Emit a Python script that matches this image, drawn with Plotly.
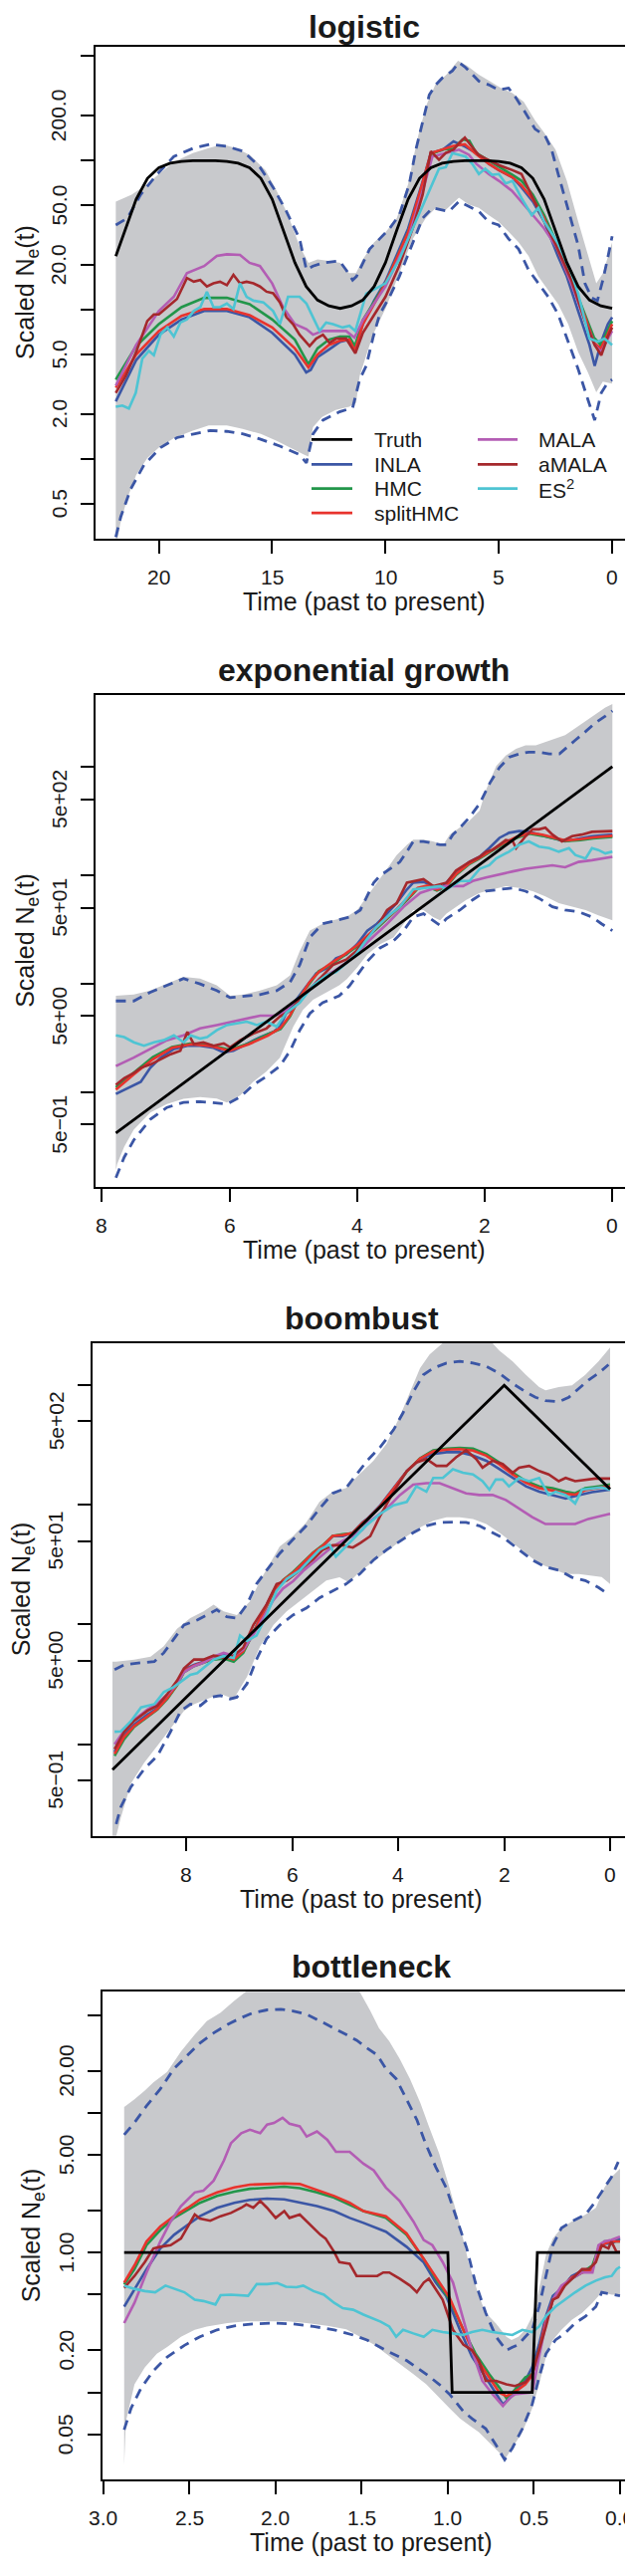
import math
import plotly.graph_objects as go

W, H = 636, 2587
FONT = "Liberation Sans, Arial, Helvetica, sans-serif"

GRAY = "#C8C9CC"
BLUE = "#3B56A5"
GREEN = "#22964A"
RED = "#E8332D"
MAGENTA = "#B35DB4"
DARKRED = "#A5282C"
CYAN = "#4EC4D3"
BLACK = "#000000"

# ---------------- Panel 1: logistic ----------------
p1_truth = [[21.9, 22.8], [21.5, 34.2], [21, 55], [20.5, 75.8], [20, 89.3], [19.5, 95.7], [19, 98.4], [18.5, 99.4],
            [18, 99.8], [17.5, 99.4], [17, 98.4], [16.5, 95.7], [16, 89.3], [15.5, 75.8], [15, 55], [14.5, 34.2],
            [14, 20.7], [13.5, 14.3], [13, 11.6], [12.5, 10.6], [12, 10.2], [11.5, 10.6], [11, 11.6], [10.5, 14.3],
            [10, 20.7], [9.5, 34.2], [9, 55], [8.5, 75.8], [8, 89.3], [7.5, 95.7], [7, 98.4], [6.5, 99.4], [6, 99.8],
            [5.5, 99.4], [5, 98.4], [4.5, 95.7], [4, 89.3], [3.5, 75.8], [3, 55], [2.5, 34.2], [2, 20.7], [1.5, 14.3],
            [1, 11.6], [0.5, 10.6], [0, 10.2]]
p1_band_up = [[21.9, 53], [21.2, 59], [20.5, 69.5], [20, 81], [19.3, 98], [18.5, 112], [17.8, 121], [17.2, 128],
              [16.6, 121], [16, 109], [15.3, 86], [14.8, 62.5], [14.3, 43], [13.8, 26.8], [13.4, 20.6], [13.0, 21.7],
              [12.5, 21.2], [12.0, 20.6], [11.6, 17.6], [11.3, 17.6], [11.0, 21.7], [10.5, 28.3], [10.0, 33],
              [9.5, 41], [9.0, 69.5], [8.6, 138], [8.2, 234], [7.8, 321], [7.3, 377], [6.8, 465], [6.4, 430],
              [5.9, 377], [5.4, 339], [4.9, 305], [4.4, 282], [3.9, 247], [3.4, 185], [3.0, 153], [2.5, 118],
              [2.0, 73], [1.5, 39], [1.0, 21.7], [0.7, 15], [0.4, 17.6], [0.0, 28.3]]
p1_band_lo = [[21.9, 0.25], [21.7, 0.37], [21.4, 0.54], [21.0, 0.78], [20.5, 1.02], [20.0, 1.19], [19.3, 1.39],
              [18.5, 1.55], [17.8, 1.68], [17.0, 1.68], [16.3, 1.59], [15.5, 1.47], [14.8, 1.32], [14.2, 1.19],
              [13.6, 1.07], [13.4, 1.04], [13.2, 1.63], [12.8, 1.91], [12.2, 2.13], [11.6, 2.24], [11.3, 2.37],
              [11.14, 3.6], [10.55, 6.8], [9.97, 10.4], [9.39, 17.6], [8.8, 29.8], [8.22, 41], [7.78, 48],
              [7.34, 46.7], [6.76, 56.2], [6.32, 50.6], [5.88, 48], [5.45, 43], [5.01, 38.8], [4.57, 33.2],
              [4.13, 28.3], [3.69, 22.9], [3.26, 16.7], [2.82, 13.5], [2.38, 10.9], [1.94, 8.0], [1.5, 5.2],
              [1.07, 3.8], [0.7, 2.8], [0.41, 3.3], [0.0, 3.2]]
p1_dash_up = [[21.9, 36.9], [21.39, 41], [20.8, 59], [20.07, 81], [19.34, 106], [18.46, 121], [17.73, 128],
              [17.0, 124], [16.27, 115], [15.54, 90], [14.96, 66], [14.37, 45.5], [13.79, 29.8], [13.49, 18.5],
              [13.2, 19.6], [12.76, 20.6], [12.03, 21.2], [11.74, 18.5], [11.45, 15.8], [11.28, 16.7],
              [10.99, 20.6], [10.7, 25.5], [10.26, 29.8], [9.82, 35], [9.39, 43], [8.95, 69.5], [8.66, 118],
              [8.36, 180], [8.07, 274], [7.78, 321], [7.49, 357], [7.05, 397], [6.76, 453], [6.47, 419],
              [6.18, 377], [5.88, 339], [5.45, 321], [5.01, 297], [4.57, 305], [4.28, 267], [3.84, 210],
              [3.4, 162], [2.96, 146], [2.67, 118], [2.38, 81], [2.09, 56], [1.8, 39], [1.5, 27], [1.2, 15],
              [0.9, 12], [0.65, 11.5], [0.4, 16], [0.2, 22], [0.0, 31]]
p1_dash_lo = [[21.9, 0.30], [21.68, 0.41], [21.24, 0.63], [20.66, 0.91], [19.93, 1.19], [19.2, 1.39], [18.46, 1.47],
              [17.73, 1.55], [17.0, 1.53], [16.27, 1.47], [15.54, 1.36], [14.66, 1.22], [13.79, 1.07], [13.49, 0.94],
              [13.2, 1.47], [12.76, 1.82], [12.03, 2.07], [11.45, 2.2], [11.14, 3.4], [10.85, 4.2], [10.55, 6.5],
              [10.26, 9.3], [9.82, 12.2], [9.39, 16.7], [9.09, 21.7], [8.8, 28.3], [8.36, 41], [7.93, 48],
              [7.49, 46.7], [7.2, 45.5], [6.76, 53], [6.32, 49.3], [5.88, 45.5], [5.45, 38.8], [5.01, 36.9],
              [4.57, 29.8], [4.13, 25.5], [3.69, 18.5], [3.26, 15.0], [2.82, 12.2], [2.38, 9.3], [1.94, 6.1],
              [1.5, 4.0], [1.07, 2.5], [0.77, 1.82], [0.48, 2.77], [0.19, 3.25], [0.0, 3.4]]
p1_inla = [[21.9, 2.43], [21.0, 4.6], [20.0, 6.8], [19.0, 8.6], [18.0, 9.8], [17.0, 9.8], [16.0, 8.9], [15.0, 7.0],
           [14.0, 5.0], [13.5, 3.8], [13.3, 3.95], [13.0, 4.8], [12.5, 5.4], [12.0, 6.1], [11.6, 6.3], [11.35, 5.6],
           [11.0, 8.0], [10.5, 11.5], [10.0, 15.5], [9.0, 35], [8.35, 73], [8.0, 112], [7.5, 117], [7.0, 134],
           [6.5, 124], [6.0, 112], [5.45, 95], [5.0, 86], [4.4, 77], [4.0, 66], [3.5, 53], [3.0, 39], [2.4, 23],
           [2.0, 16.7], [1.5, 9.8], [1.0, 5.8], [0.77, 4.2], [0.48, 6.1], [0.19, 8.0], [0.0, 8.9]]
p1_hmc = [[21.9, 3.4], [21.0, 5.7], [20.0, 8.0], [19.0, 10.4], [18.0, 12.0], [17.0, 12.0], [16.0, 10.9], [15.0, 8.6],
          [14.0, 6.3], [13.4, 4.3], [13.0, 5.5], [12.5, 6.3], [12.0, 6.6], [11.6, 6.6], [11.35, 5.7], [11.0, 8.5],
          [10.0, 15], [9.0, 33], [8.35, 70], [8.0, 110], [7.5, 118], [7.0, 120], [6.6, 138], [6.3, 135], [6.0, 112],
          [5.45, 100], [5.0, 90], [4.4, 80], [4.0, 73], [3.5, 59], [3.0, 43], [2.4, 27], [1.8, 15.8], [1.2, 9.3],
          [0.8, 6.5], [0.5, 5.8], [0.2, 7.2], [0.0, 8.4]]
p1_split = [[21.9, 3.0], [21.0, 5.0], [20.0, 7.2], [19.0, 9.1], [18.0, 10.1], [17.0, 10.1], [16.0, 9.2], [15.0, 7.6],
            [14.0, 5.5], [13.4, 4.1], [13.0, 5.0], [12.5, 5.8], [12.0, 6.2], [11.6, 6.3], [11.35, 5.3], [11.0, 8.0],
            [10.0, 15], [9.0, 33], [8.35, 72], [8.0, 112], [7.5, 118], [7.0, 125], [6.5, 128], [6.0, 110],
            [5.45, 95], [5.0, 86], [4.4, 77], [4.0, 68], [3.5, 55], [3.0, 41], [2.4, 25], [1.8, 15], [1.2, 9.0],
            [0.8, 6.0], [0.5, 5.5], [0.2, 6.8], [0.0, 8.0]]
p1_mala = [[21.9, 3.1], [21.0, 5.8], [20.0, 9.8], [19.34, 12.2], [18.76, 17.6], [18.0, 19.6], [17.44, 22.9],
           [17.0, 23.5], [16.42, 23.3], [16.0, 20.6], [15.54, 19.6], [15.0, 15.0], [14.52, 10.4], [14.0, 8.0],
           [13.49, 7.4], [13.2, 6.8], [12.76, 7.2], [12.32, 7.2], [11.74, 7.2], [11.37, 6.5], [11.0, 8.5],
           [10.0, 14.3], [9.0, 30], [8.36, 62.5], [7.93, 106], [7.34, 112], [6.76, 118], [6.32, 109], [6.0, 95],
           [5.45, 81], [5.0, 73], [4.42, 62.5], [4.0, 53], [3.5, 43], [3.0, 35], [2.4, 25.5], [1.8, 15], [1.2, 8.4],
           [0.77, 5.8], [0.48, 5.2], [0.19, 6.4], [0.0, 7.2]]
p1_amala = [[21.9, 2.77], [21.46, 3.6], [21.0, 5.2], [20.51, 8.4], [20.22, 9.3], [20.0, 9.3], [19.63, 10.4],
            [19.2, 11.8], [18.76, 16.3], [18.46, 15.4], [18.17, 15.8], [17.88, 14.3], [17.59, 15.0], [17.3, 15.4],
            [17.0, 14.6], [16.71, 17.1], [16.42, 15.0], [16.13, 15.4], [15.83, 15.0], [15.54, 14.3], [15.25, 13.2],
            [14.96, 12.9], [14.66, 11.2], [14.37, 8.9], [14.08, 8.0], [13.79, 6.8], [13.35, 5.7], [13.06, 6.4],
            [12.76, 6.8], [12.47, 6.0], [12.18, 6.4], [11.74, 6.4], [11.33, 5.1], [11.0, 7.0], [10.0, 12.2],
            [9.4, 19.6], [8.8, 35], [8.36, 59], [8.0, 115], [7.64, 101], [7.34, 112], [7.0, 118], [6.76, 130],
            [6.5, 142], [6.2, 124], [5.9, 109], [5.6, 103], [5.0, 93], [4.4, 86], [4.0, 81], [3.5, 56], [3.0, 39],
            [2.4, 25.5], [1.8, 15.8], [1.2, 8.4], [0.77, 5.8], [0.48, 4.95], [0.19, 6.6], [0.0, 7.6]]
p1_es2 = [[21.9, 2.24], [21.61, 2.28], [21.32, 2.18], [21.02, 2.77], [20.73, 4.7], [20.44, 5.3], [20.22, 4.95],
          [19.93, 6.8], [19.63, 7.6], [19.34, 6.6], [19.05, 8.2], [18.76, 8.6], [18.46, 9.8], [18.17, 10.4],
          [17.88, 13.2], [17.59, 10.4], [17.3, 10.4], [17.0, 11.0], [16.71, 10.1], [16.42, 15.0], [16.13, 12.2],
          [15.83, 11.5], [15.39, 11.2], [14.96, 9.8], [14.66, 8.0], [14.3, 12.2], [13.79, 12.2], [13.49, 11.0],
          [13.2, 8.9], [12.91, 7.2], [12.62, 8.2], [12.32, 8.0], [11.89, 7.6], [11.59, 7.8], [11.33, 7.2],
          [10.85, 12.8], [10.0, 15.0], [9.39, 21.7], [8.8, 35], [8.22, 56], [7.64, 88], [7.34, 90], [7.05, 112],
          [6.76, 109], [6.47, 106], [6.18, 95], [5.88, 81], [5.6, 88], [5.3, 80], [5.0, 81], [4.7, 70], [4.4, 73],
          [4.0, 56], [3.55, 43], [3.26, 48], [3.0, 39], [2.4, 28], [1.8, 17.6], [1.5, 12.8], [1.0, 6.4],
          [0.63, 6.1], [0.34, 6.4], [0.0, 5.8]]

# ---------------- Panel 2: exponential growth ----------------
p2_truth = [[0, 1000], [1, 368], [2, 135], [3, 49.8], [4, 18.3], [5, 6.74], [6, 2.48], [7, 0.912], [7.78, 0.418]]
p2_band_up = [[7.78, 7.7], [7.5, 7.9], [7.24, 8.6], [6.98, 9.9], [6.72, 11.5], [6.46, 11.1], [6.2, 9.6], [5.99, 7.7],
              [5.78, 7.9], [5.52, 8.6], [5.26, 9.6], [5.05, 11.9], [4.9, 19.8], [4.74, 30.7], [4.54, 35.5],
              [4.38, 38.2], [4.17, 41], [4.0, 47.5], [3.84, 63.6], [3.69, 85], [3.53, 114], [3.38, 153],
              [3.22, 190], [3.12, 212], [2.96, 212], [2.81, 204], [2.65, 190], [2.55, 236], [2.39, 273],
              [2.24, 316], [2.08, 394], [1.98, 609], [1.82, 1014], [1.67, 1262], [1.51, 1461], [1.36, 1572],
              [1.2, 1572], [1.05, 1690], [0.89, 1817], [0.74, 1953], [0.58, 2260], [0.42, 2616], [0.27, 3030],
              [0.11, 3500], [0.0, 3767]]
p2_band_lo = [[7.78, 0.19], [7.76, 0.216], [7.65, 0.312], [7.5, 0.449], [7.24, 0.646], [6.98, 0.775], [6.72, 0.865],
              [6.46, 0.897], [6.2, 0.87], [6.04, 0.80], [5.83, 0.93], [5.63, 1.24], [5.42, 1.55], [5.21, 2.07],
              [5.0, 4.0], [4.85, 5.7], [4.69, 7.1], [4.48, 8.3], [4.28, 9.6], [4.16, 11.0], [4.0, 14.0],
              [3.84, 18.5], [3.64, 23], [3.43, 26.6], [3.27, 35.5], [3.12, 47.5], [2.96, 47.5], [2.81, 41],
              [2.70, 38.2], [2.60, 44], [2.45, 51], [2.29, 59], [2.08, 68.5], [1.88, 73.6], [1.67, 79],
              [1.46, 76], [1.25, 71], [1.05, 63.6], [0.84, 55], [0.63, 51], [0.42, 47.5], [0.22, 42.6], [0.0, 38.2]]
p2_dash_up = [[7.78, 6.9], [7.5, 6.9], [7.24, 8.3], [6.98, 9.6], [6.72, 11.1], [6.46, 9.9], [6.2, 8.6], [5.99, 7.4],
              [5.78, 7.6], [5.52, 7.9], [5.26, 8.6], [5.05, 10.3], [4.9, 14.8], [4.74, 26.6], [4.54, 35.5],
              [4.33, 38.2], [4.12, 41], [3.95, 47.5], [3.84, 63.6], [3.74, 85], [3.64, 98.6], [3.48, 114],
              [3.33, 132], [3.22, 164], [3.12, 204], [2.96, 204], [2.81, 197], [2.70, 190], [2.60, 190],
              [2.50, 236], [2.39, 273], [2.24, 340], [2.08, 455], [1.92, 705], [1.77, 979], [1.62, 1217],
              [1.46, 1309], [1.31, 1358], [1.15, 1358], [0.99, 1309], [0.83, 1309], [0.74, 1461], [0.58, 1754],
              [0.42, 2104], [0.27, 2523], [0.11, 2918], [0.0, 3260]]
p2_dash_lo = [[7.78, 0.162], [7.65, 0.25], [7.5, 0.36], [7.24, 0.56], [6.98, 0.72], [6.72, 0.80], [6.46, 0.815],
              [6.25, 0.80], [6.04, 0.775], [5.83, 0.90], [5.63, 1.16], [5.42, 1.39], [5.21, 1.73], [5.05, 2.4],
              [4.9, 3.7], [4.74, 5.3], [4.54, 6.65], [4.28, 7.7], [4.12, 9.5], [4.0, 11.9], [3.84, 16],
              [3.64, 21.3], [3.43, 24.7], [3.27, 30.7], [3.12, 41], [2.96, 44], [2.81, 38.2], [2.70, 34.3],
              [2.60, 39.6], [2.39, 47.5], [2.19, 59], [1.98, 71], [1.77, 73.6], [1.56, 76], [1.36, 71], [1.15, 61],
              [0.94, 51], [0.74, 47.5], [0.53, 45.8], [0.32, 41], [0.17, 35.5], [0.0, 30.7]]
p2_inla = [[7.78, 0.96], [7.6, 1.08], [7.39, 1.24], [7.24, 1.67], [7.08, 2.07], [6.87, 2.49], [6.66, 2.67],
           [6.46, 2.67], [6.25, 2.55], [6.09, 2.31], [5.94, 2.4], [5.73, 2.77], [5.52, 3.2], [5.31, 3.58], [5.21, 4.0],
           [5.11, 5.35], [4.95, 7.1], [4.79, 9.6], [4.64, 12.4], [4.48, 13.8], [4.33, 17.1], [4.17, 18.5], [4.0, 23],
           [3.84, 30.7], [3.69, 35.5], [3.53, 44.2], [3.38, 55], [3.22, 73.6], [3.12, 85], [2.96, 86.5], [2.81, 79],
           [2.70, 73.6], [2.60, 85], [2.45, 106], [2.24, 132], [2.08, 147], [1.93, 177], [1.77, 220], [1.62, 245],
           [1.46, 254], [1.31, 250], [1.15, 236], [0.94, 220], [0.74, 204], [0.53, 216], [0.32, 228], [0.0, 236]]
p2_hmc = [[7.78, 1.1], [7.5, 1.5], [7.2, 2.1], [6.9, 2.6], [6.6, 2.8], [6.3, 2.7], [6.0, 2.45], [5.7, 2.8],
          [5.4, 3.4], [5.2, 3.8], [5.05, 5.0], [4.9, 7.5], [4.75, 10], [4.6, 13], [4.4, 15], [4.2, 18], [4.0, 22],
          [3.8, 28], [3.6, 36], [3.4, 46], [3.2, 60], [3.05, 75], [2.9, 78], [2.75, 72], [2.6, 78], [2.45, 100],
          [2.25, 125], [2.1, 140], [1.9, 165], [1.7, 195], [1.5, 220], [1.3, 240], [1.1, 230], [0.9, 215],
          [0.74, 205], [0.5, 210], [0.3, 218], [0.0, 225]]
p2_split = [[7.78, 1.05], [7.5, 1.45], [7.2, 2.0], [6.9, 2.55], [6.6, 2.75], [6.3, 2.65], [6.0, 2.4], [5.7, 2.75],
            [5.4, 3.3], [5.2, 3.9], [5.05, 5.1], [4.9, 7.4], [4.75, 10.2], [4.6, 12.8], [4.4, 15.5], [4.2, 18.5],
            [4.0, 22.5], [3.8, 29], [3.6, 37], [3.4, 47], [3.2, 62], [3.05, 76], [2.9, 80], [2.75, 73], [2.6, 80],
            [2.45, 102], [2.25, 127], [2.1, 142], [1.9, 168], [1.7, 198], [1.5, 225], [1.3, 245], [1.1, 235],
            [0.9, 218], [0.74, 208], [0.5, 214], [0.3, 222], [0.0, 230]]
p2_mala = [[7.78, 1.73], [7.5, 2.07], [7.24, 2.49], [6.98, 3.0], [6.72, 3.33], [6.46, 3.85], [6.2, 4.14], [5.94, 4.45],
           [5.68, 4.79], [5.52, 5.05], [5.31, 5.05], [5.16, 5.35], [5.0, 6.65], [4.79, 8.3], [4.59, 11.1],
           [4.38, 12.8], [4.17, 15.5], [3.96, 20], [3.84, 24], [3.53, 35.5], [3.27, 51], [3.01, 68.4], [2.81, 74.7],
           [2.60, 79], [2.34, 79], [2.19, 88], [1.98, 95], [1.77, 102], [1.56, 108], [1.36, 114], [1.15, 118],
           [0.94, 123], [0.74, 118], [0.53, 132], [0.32, 137], [0.0, 147]]
p2_amala = [[7.78, 1.16], [7.65, 1.34], [7.5, 1.49], [7.39, 1.67], [7.24, 1.79], [7.08, 2.0], [6.92, 2.23],
            [6.77, 2.4], [6.66, 3.58], [6.56, 2.77], [6.41, 2.87], [6.25, 2.67], [6.09, 2.8], [5.99, 2.58],
            [5.83, 3.0], [5.63, 3.45], [5.42, 3.85], [5.21, 4.96], [5.05, 5.6], [4.9, 7.1], [4.69, 9.6], [4.54, 11.9],
            [4.38, 14.8], [4.17, 16.6], [4.02, 19.8], [3.86, 25.6], [3.69, 33], [3.53, 47.5], [3.38, 55],
            [3.22, 85], [3.12, 87.5], [2.96, 91.6], [2.81, 79], [2.60, 85], [2.45, 110], [2.24, 132], [2.08, 147],
            [1.98, 164], [1.88, 170], [1.77, 190], [1.67, 210], [1.56, 204], [1.51, 177], [1.36, 228], [1.25, 264],
            [1.15, 264], [1.05, 273], [0.94, 236], [0.79, 204], [0.63, 228], [0.48, 236], [0.32, 250], [0.17, 250],
            [0.0, 254]]
p2_es2 = [[7.78, 3.33], [7.65, 3.2], [7.5, 2.87], [7.34, 2.67], [7.18, 2.87], [7.03, 3.0], [6.87, 3.33], [6.72, 2.87],
          [6.61, 3.33], [6.46, 3.1], [6.35, 3.2], [6.2, 3.7], [6.04, 4.14], [5.89, 4.3], [5.73, 4.45], [5.57, 4.14],
          [5.42, 4.45], [5.26, 4.0], [5.11, 5.35], [4.9, 6.65], [4.69, 9.6], [4.48, 11.9], [4.33, 12.8],
          [4.17, 15.4], [4.02, 18.5], [3.86, 25], [3.70, 33], [3.53, 41], [3.33, 51], [3.12, 73.6], [2.91, 76],
          [2.70, 79], [2.60, 73.6], [2.39, 88], [2.24, 88], [2.08, 114], [1.93, 123], [1.82, 142], [1.72, 153],
          [1.62, 164], [1.46, 190], [1.31, 204], [1.15, 183], [0.99, 177], [0.84, 164], [0.68, 177], [0.58, 153],
          [0.42, 142], [0.32, 177], [0.22, 170], [0.11, 158], [0.0, 164]]

# ---------------- Panel 3: boombust ----------------
p3_truth = [[0, 135.3], [1, 367.9], [2, 1000], [3, 367.9], [4, 135.3], [5, 49.8], [6, 18.3], [7, 6.74], [8, 2.48],
            [9, 0.912], [9.4, 0.611]]
p3_band_up = [[9.4, 4.9], [9.33, 4.9], [8.99, 5.1], [8.68, 5.4], [8.43, 6.6], [8.18, 9.2], [7.93, 11.3], [7.68, 12.9],
              [7.49, 14.7], [7.30, 12.9], [7.05, 12.0], [6.80, 15.7], [6.61, 23.3], [6.43, 32.4], [6.24, 45],
              [5.99, 54.8], [5.74, 71.4], [5.49, 106], [5.24, 129], [4.99, 138], [4.74, 180], [4.47, 234],
              [4.22, 326], [3.97, 552], [3.78, 877], [3.59, 1390], [3.41, 1810], [3.09, 2400], [2.28, 2400],
              [2.09, 1940], [1.84, 1585], [1.59, 1220], [1.34, 968], [1.22, 906], [0.97, 968], [0.72, 1000],
              [0.47, 1220], [0.22, 1585], [0.0, 2066]]
p3_band_lo = [[9.4, 0.15], [9.33, 0.17], [9.24, 0.245], [9.05, 0.47], [8.80, 0.70], [8.49, 1.05], [8.24, 1.46],
              [8.05, 1.90], [7.86, 2.16], [7.61, 2.39], [7.36, 2.64], [7.11, 2.39], [6.86, 3.66], [6.61, 6.6],
              [6.36, 9.9], [6.11, 12.9], [5.86, 15.7], [5.61, 19.1], [5.36, 23.3], [5.11, 24.8], [4.93, 22.5],
              [4.74, 27.4], [4.59, 30.3], [4.34, 36.9], [4.09, 45], [3.84, 54.8], [3.59, 64.7], [3.34, 73.8],
              [3.09, 78.9], [2.84, 78.9], [2.59, 76.4], [2.34, 69.2], [2.09, 58.6], [1.84, 48.1], [1.59, 39.4],
              [1.34, 32.4], [1.09, 29.3], [0.84, 26.5], [0.59, 26.5], [0.34, 25.7], [0.16, 25], [0.0, 21.8]]
p3_dash_up = [[9.36, 4.2], [9.18, 4.6], [8.86, 4.8], [8.61, 4.9], [8.43, 5.8], [8.24, 7.6], [8.05, 9.9], [7.80, 10.9],
              [7.61, 12.0], [7.43, 13.3], [7.24, 11.6], [7.05, 11.3], [6.86, 14.7], [6.68, 21.8], [6.49, 28.4],
              [6.24, 39.4], [5.99, 51.4], [5.74, 66.9], [5.49, 93], [5.24, 125], [4.99, 138], [4.74, 192],
              [4.59, 234], [4.34, 305], [4.09, 425], [3.91, 590], [3.72, 877], [3.53, 1220], [3.34, 1390],
              [3.09, 1535], [2.84, 1585], [2.59, 1535], [2.34, 1438], [2.09, 1259], [1.84, 1033], [1.59, 877],
              [1.41, 794], [1.22, 743], [0.97, 728], [0.78, 794], [0.59, 936], [0.41, 1104], [0.22, 1259],
              [0.03, 1486]]
p3_dash_lo = [[9.33, 0.215], [9.24, 0.30], [9.05, 0.44], [8.80, 0.62], [8.55, 0.80], [8.30, 1.28], [8.11, 1.90],
              [7.93, 2.16], [7.74, 2.1], [7.55, 2.47], [7.36, 2.55], [7.18, 2.39], [7.05, 2.47], [6.86, 3.2],
              [6.68, 5.1], [6.49, 7.6], [6.24, 9.9], [5.99, 12.0], [5.74, 13.7], [5.49, 16.7], [5.24, 19.1],
              [4.99, 21.8], [4.73, 26.5], [4.47, 34.6], [4.22, 42.2], [3.97, 49.7], [3.72, 58.6], [3.47, 66.9],
              [3.22, 71.4], [2.97, 71.8], [2.72, 71.4], [2.47, 66.9], [2.22, 58.6], [1.97, 51.4], [1.72, 42.2],
              [1.47, 34.6], [1.22, 30.3], [0.97, 28.4], [0.72, 24.8], [0.47, 23.3], [0.22, 20.4], [0.03, 17.9]]
p3_inla = [[9.36, 0.86], [9.18, 1.19], [8.99, 1.46], [8.74, 1.77], [8.55, 2.0], [8.36, 2.47], [8.18, 3.2], [8.05, 4.2],
           [7.86, 4.6], [7.68, 4.9], [7.49, 5.3], [7.30, 5.6], [7.11, 5.3], [6.93, 6.2], [6.74, 8.6], [6.55, 12.9],
           [6.36, 19.1], [6.18, 23.3], [5.99, 26.5], [5.80, 32.4], [5.61, 39.4], [5.43, 45], [5.24, 54.8],
           [5.05, 54.8], [4.86, 58.6], [4.68, 71.4], [4.59, 76.4], [4.34, 99.4], [4.09, 138], [3.84, 192],
           [3.59, 242], [3.34, 267], [3.09, 276], [2.84, 276], [2.59, 259], [2.34, 234], [2.09, 199], [1.84, 168],
           [1.59, 143], [1.34, 129], [1.09, 121], [0.84, 113], [0.59, 121], [0.34, 128], [0.0, 134]]
p3_hmc = [[9.36, 0.80], [9.18, 1.1], [8.99, 1.4], [8.74, 1.7], [8.55, 1.95], [8.36, 2.4], [8.18, 3.1], [8.05, 4.0],
          [7.86, 4.5], [7.68, 4.8], [7.49, 5.1], [7.30, 5.2], [7.11, 4.9], [6.93, 5.8], [6.74, 8.4], [6.55, 12.5],
          [6.36, 18.5], [6.18, 23.5], [5.99, 27.5], [5.80, 33], [5.61, 40], [5.43, 46], [5.24, 55], [5.05, 57],
          [4.86, 58], [4.68, 70], [4.59, 75], [4.34, 97], [4.09, 135], [3.84, 190], [3.59, 245], [3.34, 286],
          [3.09, 295], [2.84, 300], [2.59, 295], [2.34, 267], [2.09, 226], [1.84, 186], [1.59, 158], [1.34, 143],
          [1.09, 138], [0.84, 129], [0.66, 125], [0.47, 138], [0.22, 143], [0.0, 148]]
p3_split = [[9.36, 0.83], [9.18, 1.15], [8.99, 1.42], [8.74, 1.72], [8.55, 1.97], [8.36, 2.45], [8.18, 3.15],
            [8.05, 4.1], [7.86, 4.55], [7.68, 4.85], [7.49, 5.2], [7.30, 5.4], [7.11, 5.1], [6.93, 6.0], [6.74, 8.5],
            [6.55, 12.7], [6.36, 18.8], [6.18, 23.4], [5.99, 27], [5.80, 32.7], [5.61, 39.7], [5.43, 45.5],
            [5.24, 55], [5.05, 56], [4.86, 58.3], [4.68, 70.7], [4.59, 75.7], [4.34, 98], [4.09, 136], [3.84, 191],
            [3.59, 244], [3.34, 280], [3.09, 290], [2.84, 293], [2.59, 285], [2.34, 258], [2.09, 218], [1.84, 180],
            [1.59, 153], [1.34, 138], [1.09, 132], [0.84, 124], [0.66, 122], [0.47, 133], [0.22, 139], [0.0, 143]]
p3_mala = [[9.36, 1.0], [9.18, 1.3], [8.99, 1.6], [8.74, 1.95], [8.55, 2.2], [8.36, 2.6], [8.18, 3.2], [8.05, 4.0],
           [7.86, 4.5], [7.68, 4.8], [7.49, 5.4], [7.30, 5.8], [7.11, 5.5], [6.93, 6.2], [6.74, 8.2], [6.55, 11.5],
           [6.36, 16], [6.18, 20], [5.99, 23], [5.80, 28], [5.61, 33], [5.43, 38], [5.24, 45], [5.05, 50],
           [4.86, 55], [4.68, 62], [4.59, 70], [4.22, 93], [3.97, 121], [3.72, 148], [3.47, 152], [3.22, 152],
           [2.97, 138], [2.72, 125], [2.47, 121], [2.22, 121], [1.97, 110], [1.72, 93], [1.47, 79], [1.22, 69.2],
           [0.97, 69.2], [0.66, 69.2], [0.41, 76.4], [0.16, 81.5], [0.0, 84.3]]
p3_amala = [[9.36, 0.91], [9.18, 1.27], [8.99, 1.57], [8.74, 1.9], [8.55, 2.1], [8.36, 2.64], [8.18, 3.4],
            [8.05, 4.3], [7.86, 5.1], [7.68, 5.1], [7.49, 5.5], [7.30, 5.3], [7.11, 5.5], [6.93, 6.4], [6.74, 9.9],
            [6.49, 14.7], [6.30, 21.8], [6.11, 23.3], [5.86, 28.4], [5.61, 35], [5.43, 42], [5.24, 46], [5.05, 46],
            [4.86, 44], [4.72, 48], [4.53, 54.8], [4.34, 81.5], [4.09, 129], [3.84, 192], [3.66, 226], [3.47, 242],
            [3.28, 212], [3.09, 212], [2.91, 250], [2.72, 286], [2.53, 242], [2.41, 205], [2.22, 234], [2.03, 220],
            [1.84, 186], [1.72, 205], [1.53, 212], [1.34, 192], [1.16, 180], [0.97, 158], [0.84, 168], [0.66, 158],
            [0.47, 163], [0.28, 166], [0.0, 166]]
p3_es2 = [[9.36, 1.27], [9.24, 1.28], [9.05, 1.56], [8.86, 2.03], [8.61, 2.16], [8.43, 2.73], [8.24, 3.01],
          [8.05, 3.44], [7.93, 3.8], [7.80, 3.92], [7.68, 4.33], [7.49, 5.1], [7.30, 5.45], [7.11, 5.25],
          [6.99, 8.1], [6.86, 7.3], [6.68, 8.1], [6.49, 12.0], [6.30, 19.1], [6.11, 24], [5.86, 28.4], [5.68, 34.6],
          [5.49, 42.2], [5.30, 46.6], [5.18, 36.9], [4.99, 45], [4.80, 54.8], [4.61, 66.9], [4.34, 84.3],
          [4.09, 99.4], [3.84, 106], [3.66, 143], [3.47, 129], [3.34, 168], [3.16, 168], [2.97, 199], [2.78, 186],
          [2.59, 180], [2.41, 158], [2.28, 134], [2.16, 163], [2.03, 163], [1.91, 143], [1.72, 168], [1.53, 158],
          [1.34, 168], [1.16, 121], [1.03, 129], [0.84, 121], [0.66, 103], [0.53, 134], [0.34, 138], [0.16, 140],
          [0.0, 134]]

# ---------------- Panel 4: bottleneck ----------------
p4_truth = [[2.88, 1.0], [1.0, 1.0], [0.975, 0.1], [0.51, 0.1], [0.48, 1.0], [0.0, 1.0]]
p4_band_up = [[2.88, 11.0], [2.87, 11.2], [2.82, 12.5], [2.76, 14.4], [2.71, 16.5], [2.63, 19.6], [2.55, 27.4],
              [2.47, 36.2], [2.40, 45.2], [2.32, 52], [2.24, 63.2], [2.17, 74], [2.05, 100], [1.65, 100],
              [1.53, 76], [1.51, 72.7], [1.45, 53.5], [1.40, 40.4], [1.34, 32.4], [1.28, 24.4], [1.22, 17.5],
              [1.16, 11.8], [1.11, 8.0], [1.05, 5.1], [0.99, 2.9], [0.93, 1.58], [0.88, 0.855], [0.82, 0.49],
              [0.78, 0.37], [0.72, 0.31], [0.66, 0.25], [0.63, 0.237], [0.59, 0.25], [0.55, 0.28], [0.51, 0.35],
              [0.47, 0.55], [0.43, 0.96], [0.39, 1.26], [0.34, 1.5], [0.28, 1.67], [0.20, 1.87], [0.14, 2.09],
              [0.09, 2.92], [0.05, 3.46], [0.0, 3.98]]
p4_band_lo = [[2.88, 0.03], [2.87, 0.062], [2.82, 0.114], [2.76, 0.151], [2.69, 0.189], [2.63, 0.211], [2.55, 0.25],
              [2.47, 0.28], [2.40, 0.296], [2.28, 0.313], [2.17, 0.322], [2.05, 0.322], [1.93, 0.322], [1.82, 0.313],
              [1.70, 0.299], [1.59, 0.283], [1.51, 0.25], [1.43, 0.22], [1.36, 0.19], [1.28, 0.16], [1.20, 0.135],
              [1.125, 0.114], [1.05, 0.0914], [0.99, 0.077], [0.93, 0.065], [0.875, 0.058], [0.82, 0.052],
              [0.76, 0.044], [0.70, 0.037], [0.67, 0.033], [0.625, 0.04], [0.567, 0.052], [0.51, 0.077],
              [0.47, 0.114], [0.43, 0.179], [0.39, 0.237], [0.34, 0.28], [0.28, 0.33], [0.22, 0.37], [0.16, 0.437],
              [0.106, 0.52], [0.048, 0.5], [0.0, 0.5]]
p4_dash_up = [[2.88, 6.95], [2.82, 8.5], [2.75, 11.2], [2.67, 14.8], [2.59, 20.7], [2.51, 25.9], [2.44, 31.5],
              [2.36, 37.2], [2.28, 42.8], [2.20, 47.8], [2.13, 52], [2.05, 54.4], [1.97, 55], [1.90, 53.5],
              [1.82, 50.6], [1.74, 45.2], [1.66, 40.4], [1.59, 36.2], [1.53, 33], [1.47, 29], [1.41, 25.9],
              [1.36, 20.7], [1.30, 17.5], [1.24, 12.5], [1.18, 8.9], [1.13, 6.05], [1.07, 4.09], [1.01, 2.92],
              [0.95, 1.77], [0.89, 1.07], [0.84, 0.61], [0.78, 0.37], [0.72, 0.25], [0.66, 0.20], [0.625, 0.21],
              [0.59, 0.22], [0.55, 0.25], [0.51, 0.28], [0.47, 0.41], [0.43, 0.68], [0.39, 1.13], [0.34, 1.5],
              [0.28, 1.67], [0.20, 1.87], [0.14, 2.34], [0.09, 2.92], [0.05, 3.46], [0.01, 4.45]]
p4_dash_lo = [[2.88, 0.054], [2.84, 0.077], [2.78, 0.108], [2.71, 0.143], [2.63, 0.179], [2.53, 0.217], [2.44, 0.25],
              [2.34, 0.28], [2.24, 0.299], [2.13, 0.309], [2.01, 0.313], [1.90, 0.309], [1.78, 0.296], [1.66, 0.28],
              [1.55, 0.257], [1.47, 0.237], [1.36, 0.2], [1.24, 0.169], [1.125, 0.135], [1.05, 0.114],
              [0.99, 0.097], [0.91, 0.073], [0.86, 0.065], [0.78, 0.055], [0.72, 0.042], [0.67, 0.033],
              [0.625, 0.04], [0.567, 0.055], [0.51, 0.082], [0.47, 0.128], [0.43, 0.189], [0.375, 0.237],
              [0.32, 0.264], [0.26, 0.313], [0.20, 0.35], [0.14, 0.41], [0.106, 0.52], [0.048, 0.5], [0.0, 0.49]]
p4_inla = [[2.88, 0.41], [2.82, 0.55], [2.75, 0.76], [2.67, 1.07], [2.59, 1.34], [2.51, 1.58], [2.44, 1.82],
           [2.34, 2.09], [2.24, 2.27], [2.15, 2.38], [2.05, 2.43], [1.95, 2.4], [1.86, 2.27], [1.76, 2.15],
           [1.66, 1.98], [1.57, 1.77], [1.49, 1.63], [1.36, 1.41], [1.24, 1.1], [1.14, 0.85], [1.07, 0.61],
           [1.01, 0.49], [0.93, 0.28], [0.86, 0.18], [0.78, 0.128], [0.72, 0.097], [0.68, 0.082], [0.64, 0.091],
           [0.61, 0.1], [0.55, 0.121], [0.51, 0.151], [0.47, 0.22], [0.43, 0.35], [0.39, 0.49], [0.34, 0.55],
           [0.28, 0.68], [0.22, 0.74], [0.16, 0.76], [0.125, 1.07], [0.09, 1.16], [0.05, 1.16], [0.0, 1.26]]
p4_hmc = [[2.88, 0.59], [2.82, 0.76], [2.75, 1.13], [2.67, 1.45], [2.59, 1.77], [2.51, 2.03], [2.44, 2.27],
          [2.34, 2.54], [2.24, 2.73], [2.15, 2.86], [2.05, 2.92], [1.95, 2.96], [1.86, 2.89], [1.76, 2.69],
          [1.66, 2.47], [1.57, 2.21], [1.49, 1.98], [1.36, 1.77], [1.24, 1.34], [1.14, 0.90], [1.07, 0.65],
          [0.99, 0.46], [0.91, 0.28], [0.84, 0.19], [0.76, 0.135], [0.70, 0.108], [0.66, 0.091], [0.625, 0.0995],
          [0.59, 0.111], [0.55, 0.128], [0.51, 0.135], [0.47, 0.2], [0.43, 0.313], [0.39, 0.46], [0.34, 0.55],
          [0.28, 0.65], [0.22, 0.72], [0.16, 0.81], [0.125, 1.07], [0.09, 1.2], [0.05, 1.2], [0.0, 1.2]]
p4_split = [[2.88, 0.61], [2.82, 0.81], [2.75, 1.2], [2.67, 1.54], [2.59, 1.82], [2.51, 2.09], [2.44, 2.4],
            [2.34, 2.69], [2.24, 2.92], [2.15, 3.06], [2.05, 3.09], [1.95, 3.12], [1.86, 3.09], [1.76, 2.8],
            [1.66, 2.54], [1.57, 2.27], [1.49, 1.98], [1.36, 1.82], [1.24, 1.37], [1.14, 0.90], [1.07, 0.665],
            [0.99, 0.476], [0.91, 0.28], [0.84, 0.179], [0.76, 0.128], [0.70, 0.0995], [0.66, 0.094],
            [0.625, 0.0995], [0.59, 0.105], [0.55, 0.114], [0.51, 0.132], [0.47, 0.2], [0.43, 0.33], [0.39, 0.46],
            [0.34, 0.56], [0.28, 0.665], [0.22, 0.72], [0.16, 0.76], [0.125, 1.07], [0.09, 1.16], [0.05, 1.2],
            [0.0, 1.2]]
p4_mala = [[2.88, 0.313], [2.82, 0.437], [2.75, 0.72], [2.67, 1.2], [2.61, 1.67], [2.55, 2.15], [2.47, 2.69],
           [2.42, 2.77], [2.36, 3.27], [2.30, 4.57], [2.26, 6.05], [2.20, 7.15], [2.15, 7.56], [2.09, 7.15],
           [2.05, 8.22], [2.01, 8.45], [1.96, 9.2], [1.92, 8.35], [1.86, 8.0], [1.82, 6.76], [1.76, 7.35],
           [1.70, 6.4], [1.65, 5.26], [1.57, 5.26], [1.49, 4.32], [1.43, 3.87], [1.36, 2.92], [1.28, 2.34],
           [1.20, 1.67], [1.14, 1.23], [1.09, 1.13], [1.03, 0.855], [0.97, 0.61], [0.91, 0.33], [0.86, 0.2],
           [0.80, 0.121], [0.74, 0.097], [0.68, 0.08], [0.64, 0.091], [0.61, 0.097], [0.55, 0.0995], [0.51, 0.1],
           [0.47, 0.18], [0.43, 0.313], [0.39, 0.46], [0.34, 0.58], [0.28, 0.65], [0.22, 0.72], [0.16, 0.72],
           [0.125, 1.13], [0.09, 1.2], [0.05, 1.23], [0.0, 1.3]]
p4_amala = [[2.88, 0.56], [2.82, 0.68], [2.76, 0.855], [2.71, 1.07], [2.67, 1.1], [2.61, 1.13], [2.55, 1.26],
            [2.49, 1.67], [2.47, 1.87], [2.44, 1.75], [2.38, 1.69], [2.32, 1.82], [2.26, 1.92], [2.20, 2.09],
            [2.17, 2.21], [2.13, 2.09], [2.09, 2.34], [2.05, 2.09], [2.0, 1.77], [1.95, 1.98], [1.92, 1.77],
            [1.86, 1.87], [1.82, 1.67], [1.78, 1.5], [1.74, 1.34], [1.71, 1.26], [1.66, 1.01], [1.63, 0.855],
            [1.57, 0.83], [1.53, 0.68], [1.47, 0.68], [1.41, 0.68], [1.375, 0.72], [1.34, 0.72], [1.28, 0.65],
            [1.22, 0.58], [1.18, 0.52], [1.14, 0.61], [1.11, 0.65], [1.07, 0.55], [1.03, 0.46], [0.97, 0.28],
            [0.91, 0.22], [0.86, 0.2], [0.82, 0.169], [0.78, 0.121], [0.72, 0.121], [0.66, 0.114], [0.61, 0.111],
            [0.55, 0.118], [0.51, 0.135], [0.47, 0.2], [0.43, 0.296], [0.39, 0.46], [0.36, 0.48], [0.32, 0.58],
            [0.26, 0.68], [0.22, 0.76], [0.18, 0.76], [0.14, 0.855], [0.106, 1.13], [0.067, 1.07], [0.05, 1.2],
            [0.02, 1.01], [0.0, 1.01]]
p4_es2 = [[2.88, 0.58], [2.82, 0.55], [2.76, 0.53], [2.70, 0.52], [2.64, 0.58], [2.59, 0.55], [2.53, 0.52],
          [2.47, 0.46], [2.42, 0.45], [2.35, 0.425], [2.32, 0.495], [2.26, 0.50], [2.20, 0.495], [2.16, 0.49],
          [2.11, 0.595], [2.05, 0.595], [1.99, 0.605], [1.94, 0.57], [1.88, 0.565], [1.84, 0.58], [1.78, 0.53],
          [1.72, 0.50], [1.66, 0.437], [1.61, 0.40], [1.55, 0.39], [1.49, 0.36], [1.39, 0.32], [1.34, 0.296],
          [1.30, 0.25], [1.26, 0.28], [1.20, 0.264], [1.14, 0.25], [1.09, 0.28], [1.03, 0.27], [0.97, 0.264],
          [0.91, 0.257], [0.86, 0.27], [0.80, 0.28], [0.74, 0.27], [0.68, 0.264], [0.625, 0.257], [0.567, 0.28],
          [0.51, 0.27], [0.47, 0.296], [0.43, 0.35], [0.375, 0.41], [0.32, 0.46], [0.26, 0.52], [0.20, 0.58],
          [0.14, 0.63], [0.087, 0.665], [0.048, 0.68], [0.02, 0.76], [0.0, 0.79]]

# ---------------- axis / tick definitions ----------------
titles = ["logistic", "exponential growth", "boombust", "bottleneck"]
x_ticks = [[20, 15, 10, 5, 0], [8, 6, 4, 2, 0], [8, 6, 4, 2, 0], [3.0, 2.5, 2.0, 1.5, 1.0, 0.5, 0.0]]
x_tick_text = [["20", "15", "10", "5", "0"], ["8", "6", "4", "2", "0"], ["8", "6", "4", "2", "0"],
               ["3.0", "2.5", "2.0", "1.5", "1.0", "0.5", "0.0"]]
y_ticks = [[0.5, 1, 2, 5, 10, 20, 50, 100, 200, 500],
           [0.5, 1, 5, 10, 50, 100, 500, 1000],
           [0.5, 1, 5, 10, 50, 100, 500, 1000],
           [0.05, 0.1, 0.2, 0.5, 1, 2, 5, 10, 20, 50]]
y_labels = [{0.5: "0.5", 2: "2.0", 5: "5.0", 20: "20.0", 50: "50.0", 200: "200.0"},
            {0.5: "5e\u221201", 5: "5e+00", 50: "5e+01", 500: "5e+02"},
            {0.5: "5e\u221201", 5: "5e+00", 50: "5e+01", 500: "5e+02"},
            {0.05: "0.05", 0.2: "0.20", 1: "1.00", 5: "5.00", 20: "20.00"}]

# panel boxes in pixels (left, right, top, bottom) and axis ranges
boxes = [(88.3, 627.0, 38.5, 532.7), (88.3, 627.3, 689.5, 1183.6),
         (85.0, 625.0, 1340.9, 1835.8), (95.3, 635.0, 1992.2, 2481.9)]
title_y = [19.5, 664.5, 1315.9, 1967.2]
x_ranges = [[22.78, -0.876], [8.094, -0.312], [9.776, -0.376], [3.004, -0.116]]
y_ranges = [[-0.532, 2.764], [-0.872, 3.664], [-0.767, 3.352], [-1.622, 1.866]]

panels = [
    dict(truth=p1_truth, bu=p1_band_up, bl=p1_band_lo, du=p1_dash_up, dl=p1_dash_lo,
         inla=p1_inla, hmc=p1_hmc, split=p1_split, mala=p1_mala, amala=p1_amala, es2=p1_es2),
    dict(truth=p2_truth, bu=p2_band_up, bl=p2_band_lo, du=p2_dash_up, dl=p2_dash_lo,
         inla=p2_inla, hmc=p2_hmc, split=p2_split, mala=p2_mala, amala=p2_amala, es2=p2_es2),
    dict(truth=p3_truth, bu=p3_band_up, bl=p3_band_lo, du=p3_dash_up, dl=p3_dash_lo,
         inla=p3_inla, hmc=p3_hmc, split=p3_split, mala=p3_mala, amala=p3_amala, es2=p3_es2),
    dict(truth=p4_truth, bu=p4_band_up, bl=p4_band_lo, du=p4_dash_up, dl=p4_dash_lo,
         inla=p4_inla, hmc=p4_hmc, split=p4_split, mala=p4_mala, amala=p4_amala, es2=p4_es2),
]

methods = [("inla", "INLA", BLUE), ("hmc", "HMC", GREEN), ("split", "splitHMC", RED),
           ("mala", "MALA", MAGENTA), ("amala", "aMALA", DARKRED), ("es2", "ES<sup>2</sup>", CYAN)]


def unz(pairs):
    return [p[0] for p in pairs], [p[1] for p in pairs]


fig = go.Figure()
annotations = []
layout_axes = {}

for i, pdata in enumerate(panels):
    k = "" if i == 0 else str(i + 1)
    xa, ya = "x" + k, "y" + k
    l, r, t, b = boxes[i]

    # credible band polygon
    ux, uy = unz(pdata["bu"])
    lx, ly = unz(pdata["bl"])
    fig.add_trace(go.Scatter(x=ux + lx[::-1], y=uy + ly[::-1], mode="lines", fill="toself",
                             fillcolor=GRAY, line=dict(width=0, color=GRAY), xaxis=xa, yaxis=ya,
                             showlegend=False, hoverinfo="skip"))
    for key in ("du", "dl"):
        dx, dy = unz(pdata[key])
        fig.add_trace(go.Scatter(x=dx, y=dy, mode="lines", line=dict(color=BLUE, width=2.8, dash="10px,7px"),
                                 xaxis=xa, yaxis=ya, showlegend=False, hoverinfo="skip"))
    for key, name, col in methods:
        mx, my = unz(pdata[key])
        fig.add_trace(go.Scatter(x=mx, y=my, mode="lines", line=dict(color=col, width=2.6),
                                 xaxis=xa, yaxis=ya, showlegend=False, name=name))
    tx, ty = unz(pdata["truth"])
    fig.add_trace(go.Scatter(x=tx, y=ty, mode="lines", line=dict(color=BLACK, width=2.8),
                             xaxis=xa, yaxis=ya, showlegend=False, name="Truth"))

    common = dict(showline=True, mirror=True, linecolor="black", linewidth=2, ticks="outside",
                  ticklen=13, tickwidth=2, tickcolor="black", showticklabels=False,
                  showgrid=False, zeroline=False)
    layout_axes["xaxis" + k] = dict(domain=[l / W, r / W], range=x_ranges[i], anchor=ya,
                                    tickmode="array", tickvals=x_ticks[i], **common)
    layout_axes["yaxis" + k] = dict(domain=[1 - b / H, 1 - t / H], range=y_ranges[i], type="log",
                                    anchor=xa, tickmode="array", tickvals=y_ticks[i], **common)

    # title
    annotations.append(dict(text="<b>%s</b>" % titles[i], x=(l + r) / 2 / W, y=1 - title_y[i] / H,
                            xref="paper", yref="paper", showarrow=False, xanchor="center", yanchor="middle",
                            borderpad=0, font=dict(size=32, color="#1a1a1a", family=FONT)))
    # x tick labels
    for v, s in zip(x_ticks[i], x_tick_text[i]):
        annotations.append(dict(text=s, x=v, xref=xa, y=1 - (b + 39) / H, yref="paper", showarrow=False,
                                xanchor="center", yanchor="middle", font=dict(size=21, color="#1a1a1a", family=FONT)))
    # x axis title
    annotations.append(dict(text="Time (past to present)", x=(l + r) / 2 / W, y=1 - (b + 63) / H,
                            xref="paper", yref="paper", showarrow=False, xanchor="center", yanchor="middle",
                            font=dict(size=25, color="#1a1a1a", family=FONT)))
    # y tick labels (rotated like R)
    for v, s in y_labels[i].items():
        annotations.append(dict(text=s, x=(l - 37) / W, xref="paper", y=math.log10(v), yref=ya,
                                showarrow=False, textangle=-90, xanchor="center", yanchor="middle",
                                font=dict(size=21, color="#1a1a1a", family=FONT)))
    # y axis title
    annotations.append(dict(text="Scaled N<sub>e</sub>(t)", x=(l - 70) / W, y=1 - (t + b) / 2 / H,
                            xref="paper", yref="paper", showarrow=False, textangle=-90,
                            xanchor="center", yanchor="middle", font=dict(size=25, color="#1a1a1a", family=FONT)))

# legend (panel 1), two columns drawn as shapes + text
legend_items = [("Truth", BLACK), ("INLA", BLUE), ("HMC", GREEN), ("splitHMC", RED),
                ("MALA", MAGENTA), ("aMALA", DARKRED), ("ES<sup>2</sup>", CYAN)]
leg_rows = [433.3, 458.4, 482.7, 507.1]
leg_cols = [(305.0, 346.0, 366.0), (472.0, 512.0, 531.0)]
shapes = []
for j, (name, col) in enumerate(legend_items):
    c = 0 if j < 4 else 1
    rrow = j if j < 4 else j - 4
    x0, x1, xt = leg_cols[c]
    yy = 1 - leg_rows[rrow] / H
    shapes.append(dict(type="line", xref="paper", yref="paper", x0=x0 / W, x1=x1 / W, y0=yy, y1=yy,
                       line=dict(color=col, width=2.8)))
    annotations.append(dict(text=name, x=xt / W, y=yy, xref="paper", yref="paper", showarrow=False,
                            xanchor="left", yanchor="middle", font=dict(size=21, color="#1a1a1a", family=FONT)))

fig.update_layout(width=W, height=H, margin=dict(l=0, r=0, t=0, b=0), paper_bgcolor="white",
                  plot_bgcolor="white", showlegend=False, annotations=annotations, shapes=shapes,
                  font=dict(family=FONT), **layout_axes)

fig.write_html("out.html")
